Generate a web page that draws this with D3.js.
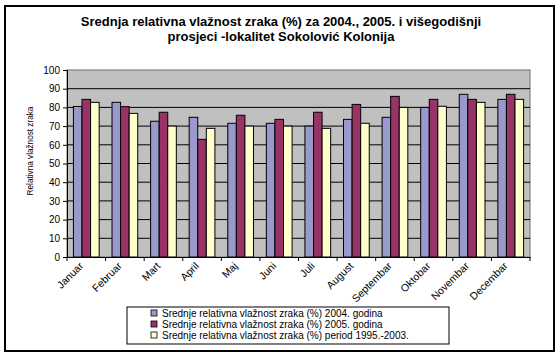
<!DOCTYPE html>
<html>
<head>
<meta charset="utf-8">
<script src="https://cdn.jsdelivr.net/npm/d3@7"></script>
<style>
  body { margin: 0; background: #fff; }
  svg { display: block; font-family: "Liberation Sans", Arial, sans-serif; }
</style>
</head>
<body>
<svg id="chart" width="560" height="359"></svg>
<script>
const months = ["Januar", "Februar", "Mart", "April", "Maj", "Juni", "Juli", "August", "Septembar", "Oktobar", "Novembar", "Decembar"];
const y2004 = [80.5, 82.7, 72.6, 74.7, 71.5, 71.5, 70, 73.6, 74.7, 80, 87, 84.3];
const y2005 = [84.3, 80.4, 77.4, 62.9, 75.8, 73.6, 77.4, 81.6, 85.9, 84.3, 84.3, 87];
const yPeriod = [82.7, 76.8, 70, 68.8, 70, 70, 68.8, 71.5, 80, 80.6, 82.7, 84.3];
const seriesNames = [
    "Srednje relativna vlažnost zraka (%) 2004. godina",
    "Srednje relativna vlažnost zraka (%) 2005. godina",
    "Srednje relativna vlažnost zraka (%) period 1995.-2003."
];
const seriesColors = ["#9999CC", "#993366", "#FFFFCC"];
const yTicks = [0, 10, 20, 30, 40, 50, 60, 70, 80, 90, 100];

const svg = d3.select("#chart");
const L = 67, R = 530, T = 70, B = 257;

// outer frame
svg.append("rect").attr("x", 5).attr("y", 6).attr("width", 549).attr("height", 345)
    .attr("fill", "#fff").attr("stroke", "#000").attr("stroke-width", 2);

// title
svg.append("text").attr("x", 281).attr("y", 26).attr("text-anchor", "middle")
    .attr("font-size", 13).attr("font-weight", "bold").text("Srednja relativna vlažnost zraka (%) za 2004., 2005. i višegodišnji");
svg.append("text").attr("x", 281).attr("y", 41).attr("text-anchor", "middle")
    .attr("font-size", 13).attr("font-weight", "bold").text("prosjeci -lokalitet Sokolović Kolonija");

const x = d3.scaleBand().domain(months).range([L, R]).paddingInner(0).paddingOuter(0);
const y = d3.scaleLinear().domain([0, 100]).range([B, T]);
const bw = x.bandwidth() / 4.5;
const xs = d3.scaleBand().domain([0, 1, 2]).range([bw * 0.75, bw * 3.75]);

svg.append("rect").attr("x", L).attr("y", T).attr("width", R - L).attr("height", B - T)
    .attr("fill", "#C0C0C0").attr("stroke", "#808080").attr("stroke-width", 1.2);

// gridlines
svg.append("g").selectAll("line").data(yTicks.filter(d => d > 0 && d < 100)).join("line")
    .attr("x1", L).attr("x2", R).attr("y1", d => y(d)).attr("y2", d => y(d))
    .attr("stroke", "#000").attr("stroke-width", 1);

const rows = months.map((m, i) => ({ m, v: [y2004[i], y2005[i], yPeriod[i]] }));
svg.append("g").selectAll("g").data(rows).join("g")
    .attr("transform", d => `translate(${x(d.m)},0)`)
    .selectAll("rect").data(d => d.v.map((v, k) => ({ v, k }))).join("rect")
    .attr("x", d => xs(d.k)).attr("width", xs.bandwidth())
    .attr("y", d => y(d.v)).attr("height", d => B - y(d.v))
    .attr("fill", d => seriesColors[d.k]).attr("stroke", "#000").attr("stroke-width", 1);

// y axis
const yAxis = svg.append("g").attr("transform", `translate(${L},0)`)
    .call(d3.axisLeft(y).tickValues(yTicks).tickSize(4).tickPadding(3));
yAxis.select(".domain").attr("stroke", "#000");
yAxis.selectAll("text").attr("font-size", 10).attr("fill", "#000").attr("font-family", "Liberation Sans, Arial, sans-serif");

// x axis
const xAxis = svg.append("g").attr("transform", `translate(0,${B})`)
    .call(d3.axisBottom(x).tickSize(0).tickFormat(""));
xAxis.select(".domain").attr("stroke", "#000");
xAxis.selectAll(".bnd").data(d3.range(months.length + 1)).join("line")
    .attr("x1", i => L + i * x.step()).attr("x2", i => L + i * x.step())
    .attr("y1", 0).attr("y2", 4).attr("stroke", "#000");
svg.append("g").selectAll("text").data(months).join("text")
    .attr("transform", d => `translate(${x(d) + x.bandwidth() / 2 - 5},${B + 7}) rotate(-45)`)
    .attr("text-anchor", "end").attr("dy", "0.35em")
    .attr("font-size", 10.5).text(d => d);

// y label
svg.append("text").attr("transform", `translate(33,151) rotate(-90)`)
    .attr("text-anchor", "middle").attr("font-size", 8.2).text("Relativna vlažnost zraka");

// legend
const lg = svg.append("g");
lg.append("rect").attr("x", 127).attr("y", 307).attr("width", 322).attr("height", 37)
    .attr("fill", "#fff").attr("stroke", "#000").attr("stroke-width", 1);
seriesNames.forEach((n, k) => {
    const cy = 313 + k * 11;
    lg.append("rect").attr("x", 151).attr("y", cy - 3).attr("width", 6).attr("height", 6)
        .attr("fill", seriesColors[k]).attr("stroke", "#000").attr("stroke-width", 0.8);
    lg.append("text").attr("x", 162).attr("y", cy).attr("dy", "0.35em")
        .attr("font-size", 10).text(n);
});
</script>
</body>
</html>
